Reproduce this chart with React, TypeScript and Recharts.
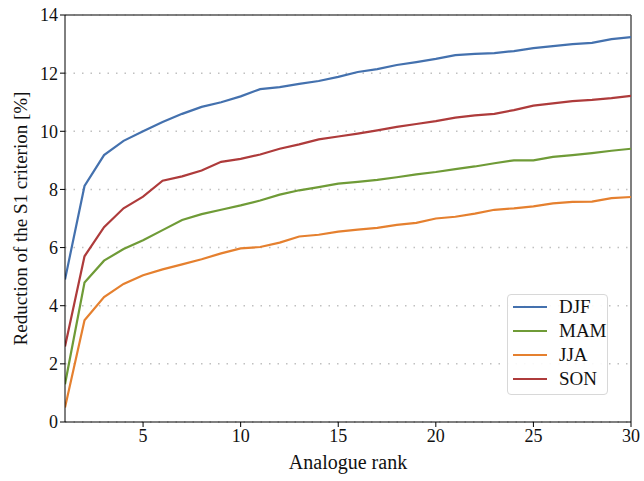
import React from "react";
import {
  Line,
  LineChart,
  CartesianGrid,
  ReferenceLine,
  XAxis,
  YAxis,
} from "recharts";

const ranks = Array.from({ length: 30 }, (_, i) => i + 1);

const djf = [
  4.9, 8.12, 9.18, 9.67, 10.0, 10.32, 10.6, 10.84, 11.0, 11.2, 11.45, 11.52,
  11.63, 11.73, 11.87, 12.04, 12.14, 12.28, 12.38, 12.49, 12.62, 12.66, 12.69,
  12.76, 12.86, 12.93, 13.0, 13.04, 13.17, 13.24,
];
const mam = [
  1.3, 4.8, 5.55, 5.95, 6.25, 6.6, 6.95, 7.15, 7.3, 7.45, 7.62, 7.82, 7.97,
  8.08, 8.2, 8.26, 8.33, 8.42, 8.52, 8.6, 8.7, 8.79, 8.9, 9.0, 9.0, 9.12, 9.18,
  9.25, 9.33, 9.4,
];
const jja = [
  0.5, 3.5, 4.3, 4.75, 5.05, 5.25, 5.42, 5.6, 5.8, 5.97, 6.02, 6.17, 6.38, 6.44,
  6.55, 6.62, 6.68, 6.78, 6.85, 7.0, 7.06, 7.17, 7.3, 7.35, 7.42, 7.52, 7.57,
  7.58, 7.7, 7.74,
];
const son = [
  2.6, 5.7, 6.7, 7.35, 7.75, 8.3, 8.45, 8.65, 8.95, 9.05, 9.2, 9.4, 9.55, 9.72,
  9.82, 9.92, 10.03, 10.15, 10.25, 10.35, 10.47, 10.55, 10.6, 10.73, 10.88,
  10.96, 11.04, 11.08, 11.14, 11.22,
];

const xTicks = [5, 10, 15, 20, 25, 30];
const yTicks = [0, 2, 4, 6, 8, 10, 12, 14];

const data = ranks.map((rank, i) => ({
  rank,
  DJF: djf[i],
  MAM: mam[i],
  JJA: jja[i],
  SON: son[i],
}));

const series = [
  { key: "DJF", color: "#4471ae" },
  { key: "MAM", color: "#6f9b37" },
  { key: "JJA", color: "#e5802f" },
  { key: "SON", color: "#ae3b3b" },
];

const font = "'Liberation Serif', 'DejaVu Serif', serif";
const tickStyle = { fill: "#111", fontSize: 18, fontFamily: font };

function LegendBox() {
  return (
    <div
      style={{
        position: "absolute",
        left: 507,
        top: 294,
        width: 101,
        height: 101,
        boxSizing: "border-box",
        background: "rgba(255,255,255,0.9)",
        border: "1px solid #d8d8d8",
        borderRadius: 4,
        fontFamily: font,
        fontSize: 19,
        color: "#111",
      }}
    >
      {series.map((s) => (
        <div
          key={s.key}
          style={{ display: "flex", alignItems: "center", height: 24 }}
        >
          <div
            style={{
              marginLeft: 5,
              width: 34,
              height: 2,
              background: s.color,
            }}
          />
          <span style={{ marginLeft: 12 }}>{s.key}</span>
        </div>
      ))}
    </div>
  );
}

export default function App() {
  return (
    <div
      style={{
        position: "absolute",
        left: 0,
        top: 0,
        width: 644,
        height: 481,
        background: "#fff",
      }}
    >
      <LineChart
        width={644}
        height={481}
        data={data}
        margin={{ top: 15, right: 13, bottom: 9, left: 20 }}
      >
        <CartesianGrid
          vertical={false}
          stroke="#c0c0c0"
          strokeDasharray="1.5 7"
          strokeWidth={1.5}
        />
        <XAxis
          dataKey="rank"
          type="number"
          domain={[1, 30]}
          ticks={xTicks}
          allowDataOverflow
          height={50}
          tickSize={5}
          stroke="#000"
          tick={tickStyle}
          label={{
            value: "Analogue rank",
            position: "insideBottom",
            offset: 3,
            style: { fill: "#111", fontSize: 20, fontFamily: font },
          }}
        />
        <YAxis
          width={45}
          domain={[0, 14]}
          ticks={yTicks}
          allowDataOverflow
          tickSize={5}
          stroke="#000"
          tick={tickStyle}
          label={{
            value: "Reduction of the S1 criterion [%]",
            angle: -90,
            position: "insideLeft",
            offset: 0,
            style: {
              fill: "#111",
              fontSize: 19,
              fontFamily: font,
              textAnchor: "middle",
            },
          }}
        />
        <ReferenceLine y={14} stroke="#555" strokeWidth={1.5} />
        <ReferenceLine x={30} stroke="#555" strokeWidth={1.5} />
        {series.map((s) => (
          <Line
            key={s.key}
            dataKey={s.key}
            stroke={s.color}
            strokeWidth={2.2}
            dot={false}
            isAnimationActive={false}
          />
        ))}
      </LineChart>
      <LegendBox />
    </div>
  );
}
